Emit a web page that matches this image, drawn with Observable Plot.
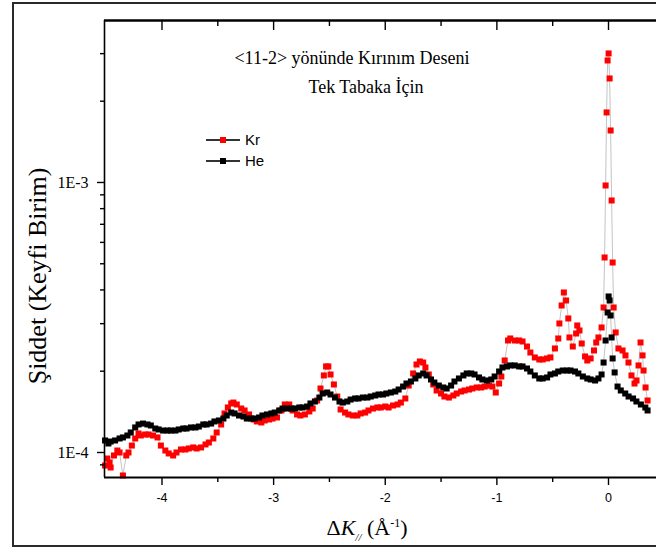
<!DOCTYPE html>
<html><head><meta charset="utf-8">
<script src="https://cdn.jsdelivr.net/npm/d3@7"></script>
<script src="https://cdn.jsdelivr.net/npm/@observablehq/plot@0.6"></script>
<style>
body{margin:0;background:#fff;}
#wrap{position:relative;width:656px;height:551px;overflow:hidden;background:#fff;}
#border{position:absolute;left:12px;top:2px;width:700px;height:545px;border:2px solid #2a2a2a;box-sizing:border-box;pointer-events:none;}
.ov{position:absolute;white-space:nowrap;color:#000;}
.serif{font-family:"Liberation Serif","Times New Roman",serif;}
.sans{font-family:"Liberation Sans",Arial,sans-serif;}
#title1{left:352px;top:58px;transform:translate(-50%,-50%);font-size:18px;}
#title2{left:366px;top:87px;transform:translate(-50%,-50%);font-size:18px;}
#ylab{left:38px;top:276px;transform:translate(-50%,-50%) rotate(-90deg);font-size:26px;}
#xlab{left:367px;top:529px;transform:translate(-50%,-50%);font-size:22px;}
#legend{left:205px;top:129px;font-size:15px;}
#legend .row{display:flex;align-items:center;height:21px;}
#legend svg{margin-right:4px;}
</style></head>
<body>
<div id="wrap">
  <div id="chart"></div>
  <div id="border"></div>
  <div id="title1" class="ov serif">&lt;11-2&gt; yönünde Kırınım Deseni</div>
  <div id="title2" class="ov serif">Tek Tabaka İçin</div>
  <div id="ylab" class="ov serif">Şiddet (Keyfi Birim)</div>
  <div id="xlab" class="ov serif">Δ<i>K</i><sub style="font-size:11px;font-style:italic">//</sub> (Å<sup style="font-size:12px">-1</sup>)</div>
  <div id="legend" class="ov sans"></div>
</div>
<script>
// ΔK// (Å^-1) positions and intensities (in units of 1e-4, arbitrary units)
const heX = [-4.51,-4.48,-4.46,-4.42,-4.38,-4.35,-4.31,-4.28,-4.24,-4.21,-4.17,-4.13,-4.10,-4.06,-4.03,-3.99,-3.95,-3.92,-3.88,-3.85,-3.81,-3.78,-3.74,-3.70,-3.67,-3.63,-3.60,-3.56,-3.53,-3.49,-3.45,-3.42,-3.38,-3.35,-3.31,-3.27,-3.24,-3.20,-3.17,-3.13,-3.10,-3.06,-3.02,-2.99,-2.95,-2.92,-2.88,-2.84,-2.81,-2.77,-2.74,-2.70,-2.67,-2.63,-2.59,-2.56,-2.52,-2.49,-2.45,-2.41,-2.38,-2.34,-2.31,-2.27,-2.24,-2.20,-2.16,-2.13,-2.09,-2.06,-2.02,-1.99,-1.95,-1.91,-1.88,-1.84,-1.81,-1.77,-1.73,-1.70,-1.66,-1.63,-1.59,-1.56,-1.52,-1.48,-1.45,-1.41,-1.38,-1.34,-1.30,-1.27,-1.23,-1.20,-1.16,-1.13,-1.09,-1.05,-1.02,-0.98,-0.95,-0.91,-0.88,-0.84,-0.80,-0.77,-0.73,-0.70,-0.66,-0.62,-0.59,-0.55,-0.52,-0.48,-0.45,-0.41,-0.37,-0.34,-0.30,-0.27,-0.23,-0.19,-0.16,-0.12,-0.09,-0.062,-0.044,-0.026,-0.008,0.001,0.010,0.019,0.028,0.037,0.055,0.081,0.11,0.15,0.18,0.22,0.25,0.29,0.33,0.35];
const heE4 = [1.108,1.080,1.098,1.108,1.127,1.137,1.156,1.186,1.238,1.270,1.280,1.270,1.259,1.227,1.217,1.206,1.206,1.206,1.206,1.217,1.227,1.227,1.238,1.238,1.248,1.270,1.270,1.280,1.303,1.314,1.336,1.371,1.406,1.395,1.371,1.359,1.336,1.336,1.336,1.348,1.371,1.383,1.395,1.406,1.431,1.455,1.455,1.455,1.455,1.468,1.468,1.480,1.519,1.545,1.598,1.654,1.668,1.640,1.598,1.545,1.531,1.545,1.571,1.585,1.585,1.598,1.598,1.612,1.626,1.640,1.640,1.654,1.668,1.682,1.711,1.755,1.801,1.832,1.880,1.929,1.962,1.929,1.864,1.816,1.770,1.741,1.726,1.770,1.832,1.880,1.929,1.962,1.962,1.945,1.896,1.864,1.848,1.864,1.912,1.995,2.065,2.083,2.101,2.101,2.083,2.083,2.047,1.995,1.929,1.880,1.880,1.896,1.945,1.962,1.995,2.012,2.012,2.012,1.995,1.962,1.912,1.880,1.864,1.848,1.880,1.945,2.154,2.599,3.300,3.783,3.656,3.217,2.667,2.230,1.979,1.755,1.697,1.654,1.612,1.585,1.545,1.506,1.468,1.431];
const krX = [-4.51,-4.49,-4.47,-4.46,-4.43,-4.40,-4.38,-4.35,-4.32,-4.30,-4.27,-4.24,-4.21,-4.19,-4.15,-4.12,-4.08,-4.04,-4.01,-3.97,-3.94,-3.90,-3.87,-3.83,-3.79,-3.76,-3.72,-3.69,-3.65,-3.61,-3.58,-3.54,-3.51,-3.47,-3.44,-3.41,-3.38,-3.36,-3.33,-3.29,-3.26,-3.22,-3.18,-3.15,-3.11,-3.08,-3.04,-3.01,-2.97,-2.93,-2.90,-2.86,-2.83,-2.79,-2.76,-2.72,-2.68,-2.65,-2.61,-2.58,-2.55,-2.53,-2.51,-2.49,-2.46,-2.43,-2.40,-2.36,-2.33,-2.29,-2.25,-2.22,-2.18,-2.15,-2.11,-2.07,-2.04,-2.00,-1.97,-1.93,-1.89,-1.86,-1.82,-1.79,-1.75,-1.72,-1.69,-1.66,-1.64,-1.61,-1.57,-1.54,-1.50,-1.47,-1.43,-1.39,-1.36,-1.32,-1.29,-1.25,-1.22,-1.18,-1.14,-1.11,-1.07,-1.04,-1.01,-0.98,-0.96,-0.93,-0.90,-0.88,-0.84,-0.80,-0.77,-0.73,-0.70,-0.66,-0.62,-0.59,-0.55,-0.52,-0.48,-0.45,-0.44,-0.42,-0.40,-0.38,-0.36,-0.35,-0.32,-0.29,-0.28,-0.26,-0.24,-0.21,-0.19,-0.16,-0.13,-0.11,-0.09,-0.062,-0.044,-0.035,-0.026,-0.017,-0.008,0.001,0.010,0.019,0.028,0.037,0.046,0.064,0.089,0.126,0.152,0.179,0.206,0.233,0.251,0.269,0.287,0.305,0.314,0.332,0.350];
const krE4 = [0.895,0.950,0.918,0.880,0.975,1.017,1.000,0.822,0.975,1.000,1.061,1.127,1.176,1.156,1.166,1.166,1.156,1.137,1.061,1.017,0.992,0.975,1.000,1.026,1.026,1.035,1.044,1.035,1.044,1.071,1.089,1.127,1.186,1.270,1.395,1.468,1.519,1.531,1.506,1.455,1.431,1.383,1.325,1.303,1.292,1.314,1.325,1.336,1.348,1.431,1.506,1.506,1.431,1.383,1.371,1.383,1.419,1.455,1.558,1.726,1.929,2.083,2.083,1.945,1.786,1.612,1.443,1.406,1.383,1.371,1.371,1.395,1.406,1.431,1.455,1.468,1.468,1.480,1.468,1.493,1.506,1.531,1.585,1.770,1.962,2.118,2.173,2.154,2.065,1.945,1.786,1.697,1.654,1.612,1.598,1.626,1.654,1.682,1.697,1.711,1.726,1.741,1.741,1.755,1.770,1.755,1.668,1.801,1.912,2.192,2.599,2.644,2.599,2.599,2.577,2.469,2.346,2.249,2.211,2.211,2.230,2.249,2.428,2.644,3.005,3.503,3.914,3.656,3.136,2.667,2.469,2.759,2.954,2.831,2.533,2.268,2.192,2.230,2.387,2.555,2.667,2.904,3.444,5.275,9.747,18.17,28.31,30.05,24.28,15.58,8.577,5.054,3.444,2.783,2.428,2.387,2.288,2.154,1.929,1.801,1.848,2.101,2.555,2.288,2.012,1.741,1.558];

const xMajor = [-4, -3, -2, -1, 0];
const xMinor = [-3.5, -2.5, -1.5, -0.5];
const yMajor = [1e-4, 1e-3];
const yMajorLabels = ["1E-4", "1E-3"];
const yMinor = [9e-5, 2e-4, 3e-4, 4e-4, 5e-4, 6e-4, 7e-4, 8e-4, 9e-4, 2e-3, 3e-3];
const xDomain = [-4.515, 0.43];
const yDomain = [8.08e-5, 3.98e-3];

const series = [
  {name: "Kr", color: "#ff0000", xs: krX, ys: krE4},
  {name: "He", color: "#000000", xs: heX, ys: heE4}
];
const rows = s => s.xs.map((x, i) => ({x, y: s.ys[i] * 1e-4}));
const kr = rows(series[0]), he = rows(series[1]);

const serif = "Liberation Serif, Times New Roman, serif";
const sans = "Liberation Sans, Arial, sans-serif";

const plot = Plot.plot({
  width: 656, height: 551,
  marginLeft: 104, marginRight: 0, marginTop: 20, marginBottom: 74,
  x: {domain: xDomain},
  y: {type: "log", domain: yDomain},
  style: {background: "transparent", color: "#000"},
  marks: [
    Plot.line(kr, {x: "x", y: "y", stroke: "#c4c4c4", strokeWidth: 1}),
    Plot.line(he, {x: "x", y: "y", stroke: "#c4c4c4", strokeWidth: 1}),
    Plot.dot(kr, {x: "x", y: "y", symbol: "square", r: 3.4, fill: series[0].color}),
    Plot.dot(he, {x: "x", y: "y", symbol: "square", r: 3.4, fill: series[1].color}),
    Plot.ruleX([xDomain[0]], {stroke: "#000", strokeWidth: 1.6}),
    Plot.ruleY([yDomain[1]], {stroke: "#000", strokeWidth: 2.5}),
    Plot.ruleY([yDomain[0]], {stroke: "#000", strokeWidth: 2}),
    Plot.axisX({ticks: xMajor, tickSize: 8, tickPadding: 8, strokeWidth: 1.4, tickFormat: d => String(d), fontSize: 12.5, fontFamily: sans, label: null}),
    Plot.axisX({ticks: xMinor, tickSize: 5, strokeWidth: 1.4, tickFormat: () => "", label: null}),
    Plot.axisX({anchor: "top", ticks: xMajor, tickSize: -9, strokeWidth: 1.4, tickFormat: () => "", label: null}),
    Plot.axisX({anchor: "top", ticks: xMinor, tickSize: -5, strokeWidth: 1.4, tickFormat: () => "", label: null}),
    Plot.axisY({ticks: yMajor, tickSize: 7, tickPadding: 9, strokeWidth: 1.4, tickFormat: d => yMajorLabels[yMajor.indexOf(d)], fontSize: 16, fontFamily: serif, label: null}),
    Plot.axisY({ticks: yMinor, tickSize: 4, strokeWidth: 1.4, tickFormat: () => "", label: null})
  ]
});
document.getElementById("chart").appendChild(plot);

// legend
const leg = document.getElementById("legend");
for (const s of series) {
  const row = document.createElement("div");
  row.className = "row";
  row.innerHTML = `<svg width="36" height="10"><line x1="1" y1="5" x2="35" y2="5" stroke="#333" stroke-width="2"/><rect x="15" y="2" width="6" height="6" fill="${s.color}"/></svg><span>${s.name}</span>`;
  leg.appendChild(row);
}
</script>
</body></html>
